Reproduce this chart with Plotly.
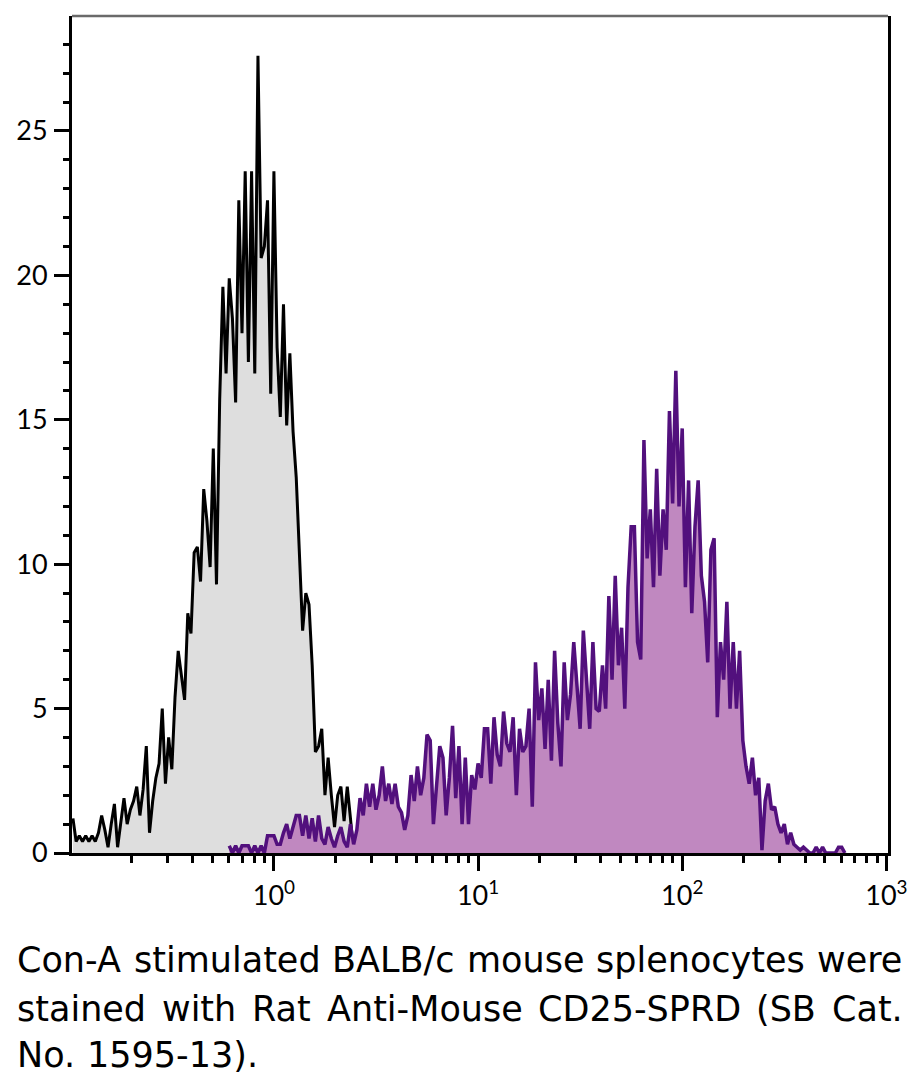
import plotly.graph_objects as go

# ---------------- data ----------------
CHANNELS_PER_DECADE = 64          # histogram resolution (channels per decade)
gray_first_channel = -63          # control (unstained) histogram
gray_counts = [
    1.2, 0.4, 0.6, 0.4, 0.6, 0.4, 0.6, 0.4, 0.7, 1.3,
    0.8, 0.2, 1.0, 1.7, 0.2, 1.1, 1.9, 1.0, 1.5, 1.8,
    2.3, 1.3, 2.2, 3.7, 0.7, 1.8, 2.6, 3.1, 5.0, 2.4,
    4.0, 2.9, 5.4, 7.0, 6.2, 5.3, 8.3, 7.6, 10.4, 10.6,
    9.4, 12.6, 11.5, 9.9, 14.0, 9.3, 15.7, 19.6, 16.6, 19.9,
    18.5, 15.6, 22.6, 18.0, 23.6, 17.0, 23.6, 16.6, 27.6, 20.6,
    21.0, 22.6, 15.9, 23.6, 17.5, 15.1, 19.0, 14.8, 17.3, 14.6,
    13.0, 10.6, 7.7, 9.0, 8.6, 6.5, 3.5, 3.7, 4.3, 2.0,
    3.3, 2.0, 0.9, 2.0, 2.3, 1.1, 2.3, 1.2, 0.0,
]
purple_first_channel = -14        # CD25-SPRD stained histogram
purple_counts = [
    0.25, 0.0, 0.25, 0.0, 0.25, 0.25, 0.25, 0.0, 0.25, 0.0,
    0.25, 0.0, 0.6, 0.6, 0.6, 0.3, 0.3, 0.7, 1.0, 0.5,
    0.9, 1.3, 1.3, 0.6, 1.3, 0.5, 1.2, 0.4, 1.3, 0.5,
    0.3, 0.9, 0.5, 0.2, 0.6, 0.9, 0.4, 0.2, 1.0, 0.3,
    0.8, 1.9, 1.3, 2.4, 1.6, 2.4, 1.5, 2.0, 3.0, 1.8,
    2.4, 1.7, 2.4, 1.6, 1.4, 0.8, 1.3, 2.7, 1.8, 3.0,
    2.0, 2.6, 4.1, 3.9, 1.0, 2.5, 3.7, 3.3, 1.3, 2.6,
    4.4, 1.9, 3.7, 1.0, 3.3, 1.0, 2.7, 2.2, 3.1, 2.6,
    4.3, 4.3, 2.4, 4.7, 3.4, 3.0, 4.9, 3.8, 3.5, 4.7,
    2.0, 4.3, 3.5, 3.7, 5.0, 1.6, 6.6, 4.6, 5.7, 3.6,
    6.0, 3.2, 7.0, 4.5, 3.0, 6.6, 4.6, 5.5, 7.3, 5.8,
    4.3, 7.7, 6.0, 4.3, 7.3, 5.0, 4.9, 6.5, 5.0, 8.9,
    6.0, 9.6, 6.5, 7.8, 5.0, 9.2, 11.3, 11.3, 7.3, 6.7,
    14.3, 10.2, 11.9, 9.2, 13.3, 9.6, 11.9, 10.5, 15.3, 12.1,
    16.7, 12.0, 14.7, 9.2, 12.9, 8.3, 11.3, 12.9, 9.6, 8.7,
    6.6, 10.5, 10.9, 4.7, 7.3, 6.0, 8.7, 5.0, 7.3, 5.0,
    7.0, 3.9, 3.0, 2.4, 3.3, 2.0, 2.6, 0.1, 1.8, 2.4,
    1.5, 1.6, 1.0, 0.7, 1.0, 0.3, 0.7, 0.3, 0.2, 0.1,
    0.2, 0.1, 0.0, 0.0, 0.2, 0.0, 0.2, 0.0, 0.0, 0.0,
    0.0, 0.2, 0.2, 0.0,
]

x_tick_values = [1, 10, 100, 1000]
x_tick_labels = ["10<sup>0</sup>", "10<sup>1</sup>", "10<sup>2</sup>", "10<sup>3</sup>"]
x_minor_values = [m * d for d in (0.1, 1, 10, 100) for m in range(2, 10)]
y_tick_values = [0, 5, 10, 15, 20, 25]

caption_lines = [
    ["Con-A", "stimulated", "BALB/c", "mouse", "splenocytes", "were"],
    ["stained", "with", "Rat", "Anti-Mouse", "CD25-SPRD", "(SB", "Cat."],
    ["No.", "1595-13)."],
]
caption_justified = [True, True, False]

# ---------------- layout constants (page pixels) ----------------
PAGE_W, PAGE_H = 923, 1091
BODY = 8                               # default html body margin
W, H = PAGE_W - 2 * BODY, PAGE_H - 2 * BODY
PLOT_L, PLOT_R, PLOT_T, PLOT_B = 70, 893, 16, 853   # plot box on the page
M_L, M_R = PLOT_L - BODY, W - (PLOT_R - BODY)
M_T, M_B = PLOT_T - BODY, H - (PLOT_B - BODY)
PLOT_W = W - M_L - M_R
PLOT_H = H - M_T - M_B
X_RANGE = [-0.989, 3.008]
Y_RANGE = [0, 28.98]

CAP_SIZE = 35
CAP_LEFT, CAP_RIGHT = 13, 905          # justified caption box (page px)
caption_line_y = [960, 1009, 1055]     # line centres (page px)

# approximate DejaVu Sans advance widths (em) used to justify the caption
DV = {" ": .318, "a": .613, "b": .635, "c": .550, "d": .635, "e": .615, "h": .634,
      "i": .278, "l": .278, "m": .974, "n": .634, "o": .612, "p": .635, "r": .411,
      "s": .521, "t": .392, "u": .634, "w": .818, "y": .592, "A": .684, "B": .686,
      "C": .698, "D": .770, "L": .557, "M": .863, "N": .748, "P": .603, "R": .695,
      "S": .635, "-": .361, "/": .337, "(": .390, ")": .390, ".": .318}
for d in "0123456789":
    DV[d] = .636

GRAY_FILL = "#dedede"
GRAY_LINE = "#000000"
PURPLE_FILL = "#c088c0"
PURPLE_LINE = "#52107d"


def channel_x(first, n):
    return [10 ** ((first + i) / CHANNELS_PER_DECADE) for i in range(n)]


def word_width(w):
    return sum(DV.get(ch, 0.6) for ch in w) * CAP_SIZE


fig = go.Figure()
fig.add_trace(go.Scatter(
    x=channel_x(gray_first_channel, len(gray_counts)), y=gray_counts,
    mode="lines", fill="tozeroy", fillcolor=GRAY_FILL,
    line=dict(color=GRAY_LINE, width=3), hoverinfo="skip", showlegend=False,
))
fig.add_trace(go.Scatter(
    x=channel_x(purple_first_channel, len(purple_counts)), y=purple_counts,
    mode="lines", fill="tozeroy", fillcolor=PURPLE_FILL,
    line=dict(color=PURPLE_LINE, width=3.5), hoverinfo="skip", showlegend=False,
))

tick_font = dict(family="Lato, Open Sans, sans-serif", size=27, color="black")

fig.update_layout(
    width=W, height=H,
    margin=dict(l=M_L, r=M_R, t=M_T, b=M_B, pad=0),
    paper_bgcolor="white", plot_bgcolor="white",
    showlegend=False,
    xaxis=dict(
        type="log", range=X_RANGE,
        showgrid=False, zeroline=False,
        showline=True, linecolor="black", linewidth=3,
        tickmode="array", tickvals=x_tick_values, ticktext=x_tick_labels,
        ticks="outside", ticklen=15, tickwidth=2.5, tickcolor="black",
        tickfont=tick_font, ticklabelstandoff=2,
        minor=dict(tickmode="array", tickvals=x_minor_values, ticks="outside",
                   ticklen=7, tickwidth=2.5, tickcolor="black", showgrid=False),
    ),
    yaxis=dict(
        range=Y_RANGE,
        showgrid=False, zeroline=False,
        showline=True, linecolor="black", linewidth=3, mirror=True,
        tickmode="array", tickvals=y_tick_values,
        ticks="outside", ticklen=15, tickwidth=2.5, tickcolor="black",
        tickfont=tick_font, ticklabelstandoff=1,
        minor=dict(dtick=1, ticks="outside", ticklen=6, tickwidth=2.5,
                   tickcolor="black", showgrid=False),
    ),
    shapes=[dict(type="line", xref="paper", yref="paper", x0=0, x1=1, y0=1, y1=1,
                 line=dict(color="#6a6a6a", width=2.5))],
)

cap_font = dict(family="DejaVu Sans, Verdana, sans-serif", size=CAP_SIZE, color="black")
for words, just, ypx in zip(caption_lines, caption_justified, caption_line_y):
    widths = [word_width(w) for w in words]
    if just and len(words) > 1:
        gap = (CAP_RIGHT - CAP_LEFT - sum(widths)) / (len(words) - 1)
    else:
        gap = DV[" "] * CAP_SIZE
    xpx = CAP_LEFT
    for word, wpx in zip(words, widths):
        fig.add_annotation(
            text=word, xref="paper", yref="paper",
            x=(xpx - BODY - M_L) / PLOT_W,
            y=(H - M_B - (ypx - BODY)) / PLOT_H,
            xanchor="left", yanchor="middle", showarrow=False,
            font=cap_font,
        )
        xpx += wpx + gap

fig.write_html("out.html")
